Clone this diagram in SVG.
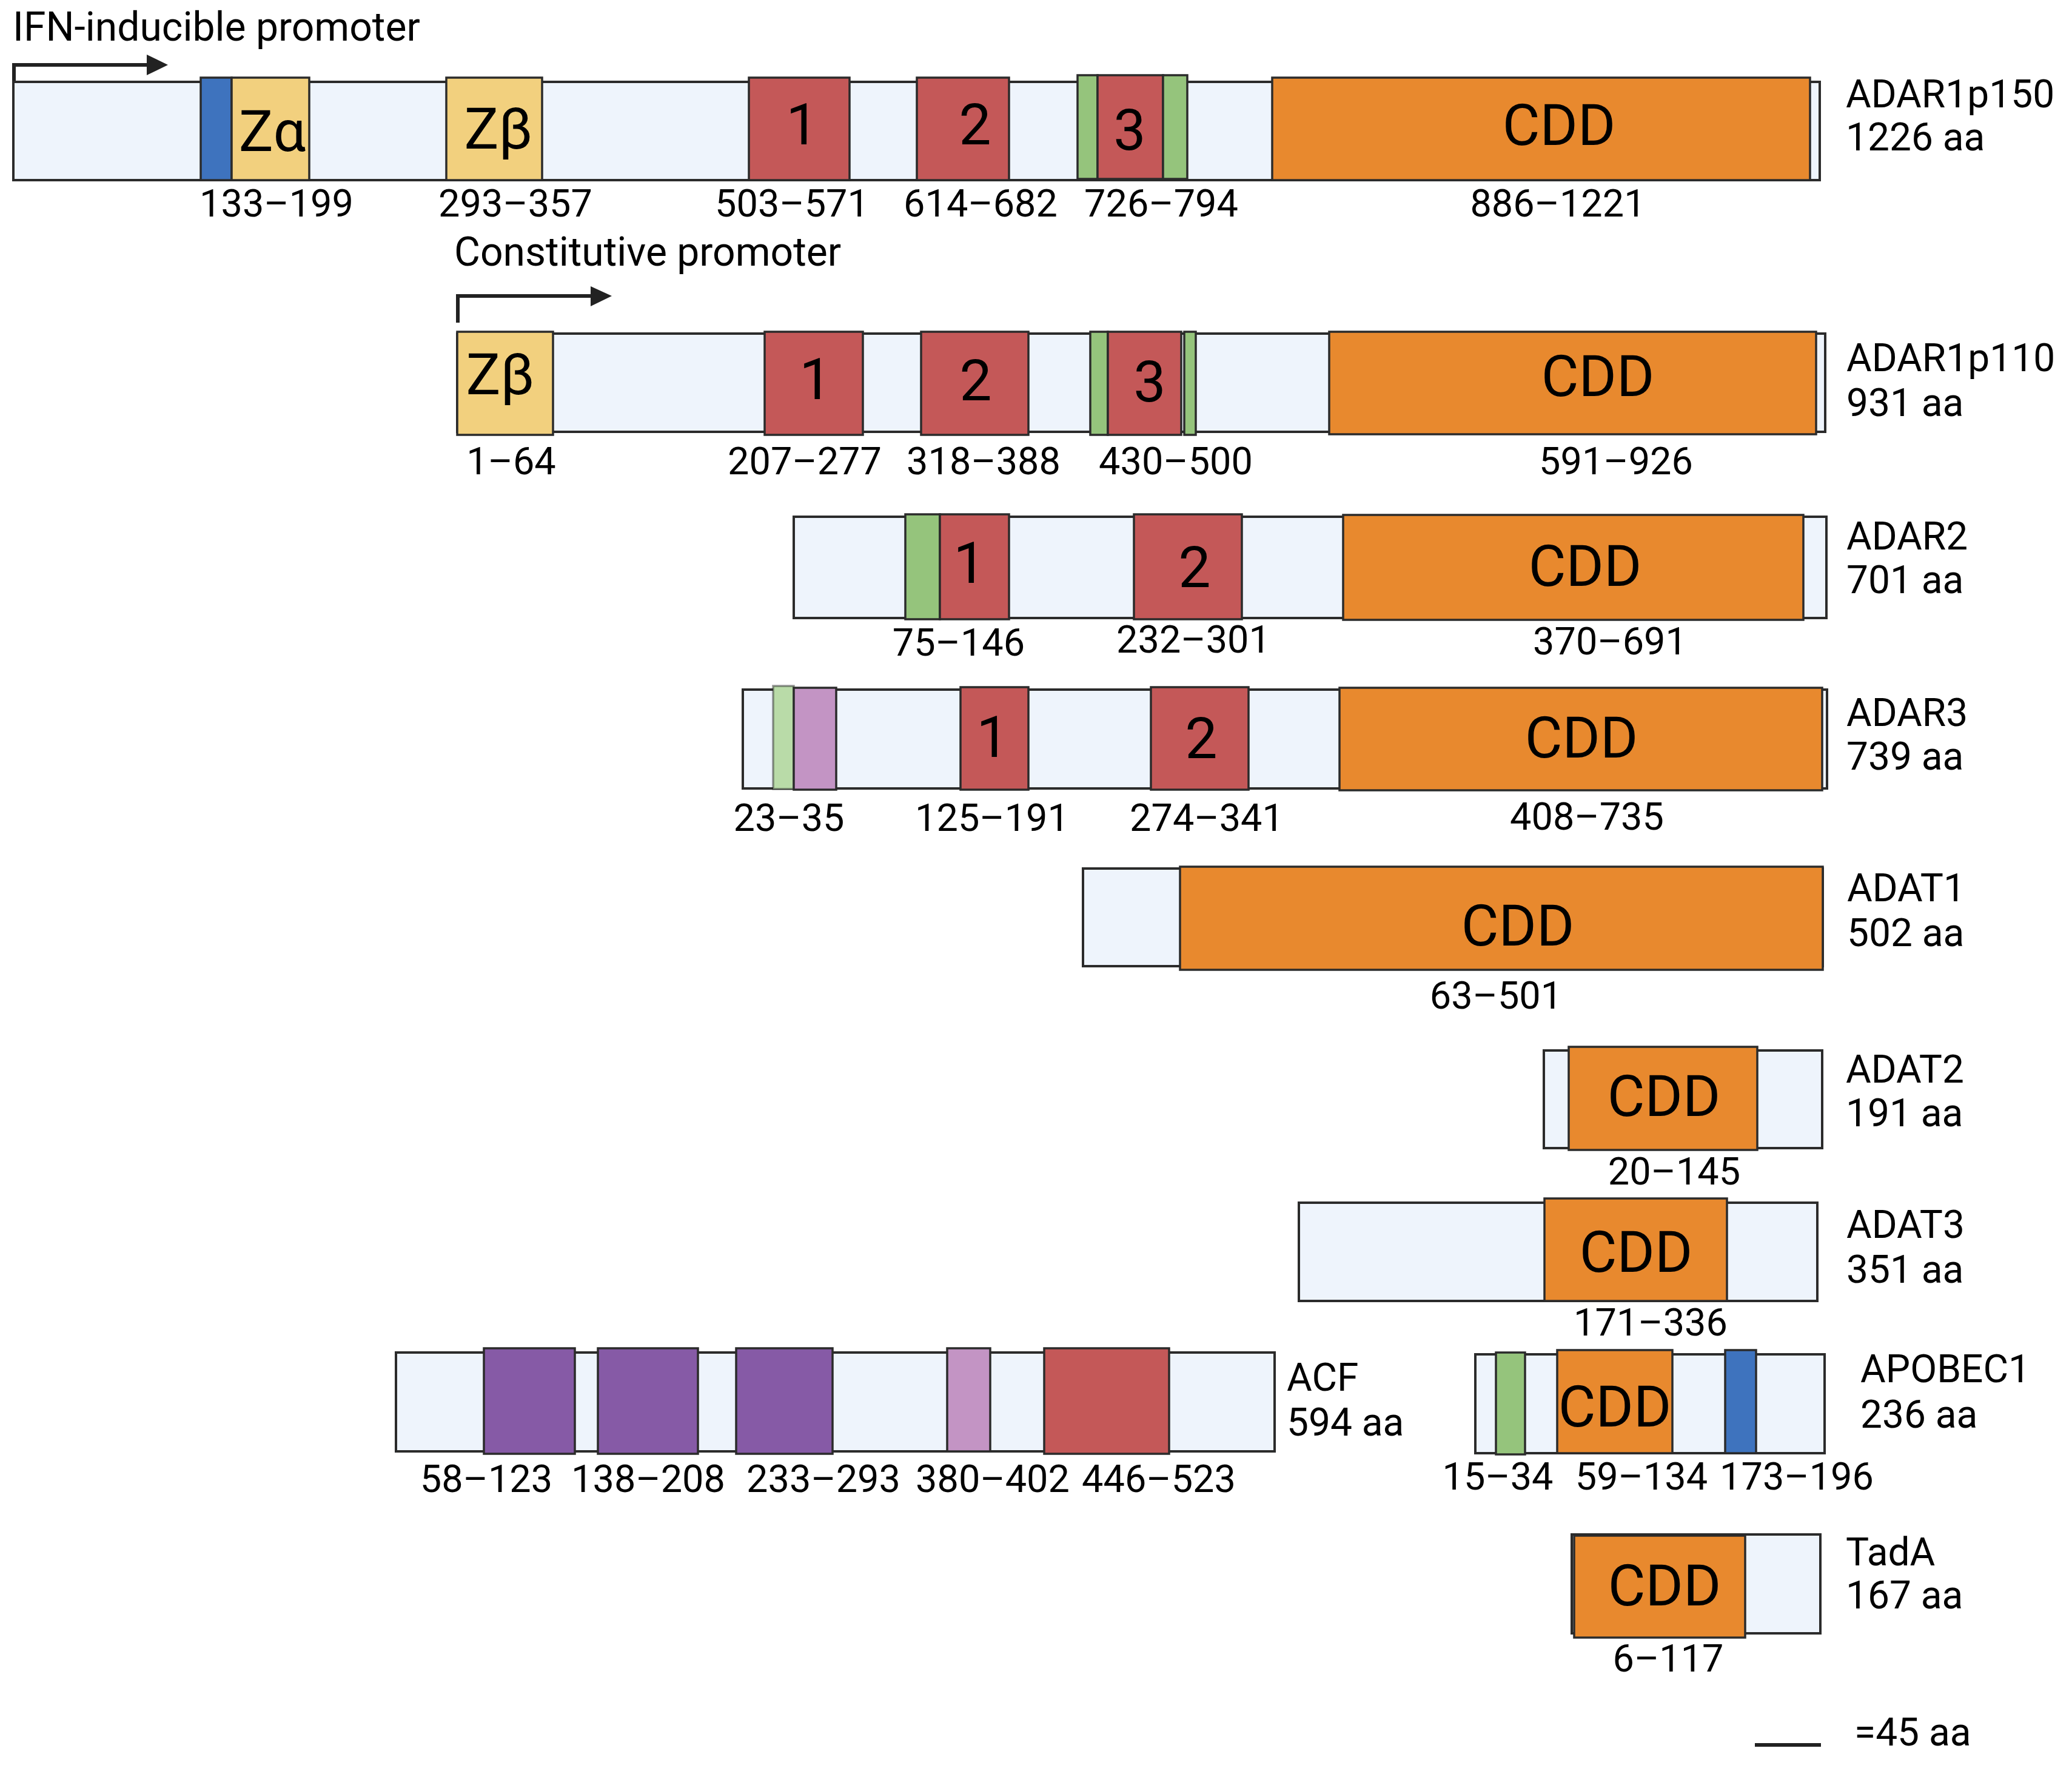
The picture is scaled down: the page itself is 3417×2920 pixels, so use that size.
<svg xmlns="http://www.w3.org/2000/svg" width="3417" height="2920" viewBox="0 0 3417 2920">
<style>
text{font-family:Roboto,"Liberation Sans",sans-serif;fill:#000}
.bar{fill:#eef4fc;stroke:#2b2b2b;stroke-width:4}
.d{stroke:#2b2b2b;stroke-width:3.5}
.y{fill:#f2d07e}.b{fill:#3e73be}.r{fill:#c45858}.g{fill:#95c47c}.o{fill:#e8892e}.p{fill:#865aa6}.k{fill:#c394c4}.lg{fill:#b9dba8}
.big{font-size:95px;text-anchor:middle}
.rng{font-size:63px;text-anchor:middle}
.nm{font-size:64px}
.pr{font-size:66px}
.arr{fill:none;stroke:#222;stroke-width:6}
</style>
<rect width="3417" height="2920" fill="#fff"/>
<g id="promoters">
<text class="pr" x="21" y="67">IFN-inducible promoter</text>
<path class="arr" d="M23 150V107H248"/>
<polygon points="242,90 277,107 242,124" fill="#222"/>
<text class="pr" x="749" y="438">Constitutive promoter</text>
<path class="arr" d="M755 532V488H978"/>
<polygon points="974,472 1009,488 974,505" fill="#222"/>
</g>
<g id="ADAR1p150">
<rect class="bar" x="22" y="135" width="2979" height="162"/>
<rect class="d b" x="331" y="128" width="51" height="169"/>
<rect class="d y" x="382" y="128" width="128" height="169"/>
<rect class="d y" x="736" y="128" width="158" height="169"/>
<rect class="d r" x="1235" y="128" width="166" height="169"/>
<rect class="d r" x="1512" y="128" width="152" height="169"/>
<rect class="d g" x="1777" y="124" width="33" height="171"/>
<rect class="d r" x="1810" y="124" width="108" height="171"/>
<rect class="d g" x="1918" y="124" width="40" height="171"/>
<rect class="d o" x="2098" y="128" width="887" height="169"/>
<text class="big" x="449" y="249">Zα</text>
<text class="big" x="822" y="245">Zβ</text>
<text class="big" x="1323" y="238">1</text>
<text class="big" x="1608" y="238">2</text>
<text class="big" x="1863" y="247">3</text>
<text class="big" x="2571" y="239">CDD</text>
<text class="rng" x="456" y="357">133–199</text>
<text class="rng" x="850" y="357">293–357</text>
<text class="rng" x="1306" y="357">503–571</text>
<text class="rng" x="1617" y="357">614–682</text>
<text class="rng" x="1915" y="357">726–794</text>
<text class="rng" x="2569" y="357">886–1221</text>
<text class="nm" x="3044" y="177">ADAR1p150</text>
<text class="nm" x="3044" y="248">1226 aa</text>
</g>
<g id="ADAR1p110">
<rect class="bar" x="754" y="550" width="2256" height="162"/>
<rect class="d y" x="754" y="547" width="158" height="170"/>
<rect class="d r" x="1261" y="547" width="162" height="170"/>
<rect class="d r" x="1519" y="547" width="177" height="170"/>
<rect class="d g" x="1798" y="547" width="29" height="170"/>
<rect class="d r" x="1827" y="547" width="121" height="170"/>
<rect class="d g" x="1953" y="547" width="19" height="170"/>
<rect class="d o" x="2192" y="547" width="803" height="169"/>
<text class="big" x="825" y="650">Zβ</text>
<text class="big" x="1345" y="658">1</text>
<text class="big" x="1609" y="660">2</text>
<text class="big" x="1896" y="662">3</text>
<text class="big" x="2635" y="653">CDD</text>
<text class="rng" x="843" y="782">1–64</text>
<text class="rng" x="1327" y="782">207–277</text>
<text class="rng" x="1622" y="782">318–388</text>
<text class="rng" x="1939" y="782">430–500</text>
<text class="rng" x="2665" y="782">591–926</text>
<text class="nm" x="3045" y="612">ADAR1p110</text>
<text class="nm" x="3045" y="686">931 aa</text>
</g>
<g id="ADAR2">
<rect class="bar" x="1309" y="852" width="1703" height="167"/>
<rect class="d g" x="1493" y="848" width="57" height="173"/>
<rect class="d r" x="1550" y="848" width="114" height="173"/>
<rect class="d r" x="1870" y="848" width="178" height="173"/>
<rect class="d o" x="2215" y="849" width="759" height="173"/>
<text class="big" x="1599" y="961">1</text>
<text class="big" x="1970" y="968">2</text>
<text class="big" x="2614" y="966">CDD</text>
<text class="rng" x="1581" y="1081">75–146</text>
<text class="rng" x="1968" y="1076">232–301</text>
<text class="rng" x="2655" y="1079">370–691</text>
<text class="nm" x="3045" y="906">ADAR2</text>
<text class="nm" x="3045" y="978">701 aa</text>
</g>
<g id="ADAR3">
<rect class="bar" x="1225" y="1137" width="1788" height="163"/>
<rect class="d lg" x="1275" y="1131" width="34" height="170" stroke-opacity="0.5"/>
<rect class="d k" x="1309" y="1134" width="70" height="168"/>
<rect class="d r" x="1584" y="1133" width="112" height="169"/>
<rect class="d r" x="1898" y="1133" width="161" height="169"/>
<rect class="d o" x="2209" y="1134" width="796" height="169"/>
<text class="big" x="1637" y="1248">1</text>
<text class="big" x="1981" y="1250">2</text>
<text class="big" x="2608" y="1249">CDD</text>
<text class="rng" x="1301" y="1370">23–35</text>
<text class="rng" x="1636" y="1370">125–191</text>
<text class="rng" x="1990" y="1370">274–341</text>
<text class="rng" x="2617" y="1368">408–735</text>
<text class="nm" x="3045" y="1197">ADAR3</text>
<text class="nm" x="3045" y="1269">739 aa</text>
</g>
<g id="ADAT1">
<rect class="bar" x="1786" y="1432" width="1220" height="161"/>
<rect class="d o" x="1946" y="1429" width="1060" height="170"/>
<text class="big" x="2503" y="1559">CDD</text>
<text class="rng" x="2467" y="1663">63–501</text>
<text class="nm" x="3046" y="1486">ADAT1</text>
<text class="nm" x="3046" y="1560">502 aa</text>
</g>
<g id="ADAT2">
<rect class="bar" x="2546" y="1732" width="459" height="161"/>
<rect class="d o" x="2587" y="1726" width="311" height="170"/>
<text class="big" x="2744" y="1840">CDD</text>
<text class="rng" x="2761" y="1953">20–145</text>
<text class="nm" x="3044" y="1785">ADAT2</text>
<text class="nm" x="3044" y="1857">191 aa</text>
</g>
<g id="ADAT3">
<rect class="bar" x="2142" y="1983" width="855" height="162"/>
<rect class="d o" x="2547" y="1976" width="301" height="169"/>
<text class="big" x="2698" y="2097">CDD</text>
<text class="rng" x="2722" y="2202">171–336</text>
<text class="nm" x="3045" y="2041">ADAT3</text>
<text class="nm" x="3045" y="2115">351 aa</text>
</g>
<g id="ACF">
<rect class="bar" x="653" y="2230" width="1449" height="163"/>
<rect class="d p" x="798" y="2223" width="150" height="174"/>
<rect class="d p" x="986" y="2223" width="165" height="174"/>
<rect class="d p" x="1214" y="2223" width="159" height="174"/>
<rect class="d k" x="1562" y="2223" width="71" height="170"/>
<rect class="d r" x="1722" y="2223" width="206" height="174"/>
<text class="rng" x="802" y="2460">58–123</text>
<text class="rng" x="1069" y="2460">138–208</text>
<text class="rng" x="1358" y="2460">233–293</text>
<text class="rng" x="1637" y="2460">380–402</text>
<text class="rng" x="1911" y="2460">446–523</text>
<text class="nm" x="2122" y="2293">ACF</text>
<text class="nm" x="2122" y="2367">594 aa</text>
</g>
<g id="APOBEC1">
<rect class="bar" x="2433" y="2233" width="576" height="163"/>
<rect class="d g" x="2467" y="2230" width="48" height="168"/>
<rect class="d o" x="2568" y="2226" width="190" height="170"/>
<rect class="d b" x="2845" y="2226" width="51" height="170"/>
<text class="big" x="2663" y="2352">CDD</text>
<text class="rng" x="2470" y="2456">15–34</text>
<text class="rng" x="2707" y="2456">59–134</text>
<text class="rng" x="2963" y="2456">173–196</text>
<text class="nm" x="3068" y="2279">APOBEC1</text>
<text class="nm" x="3068" y="2354">236 aa</text>
</g>
<g id="TadA">
<rect class="bar" x="2592" y="2530" width="410" height="163"/>
<rect class="d o" x="2596" y="2532" width="282" height="168"/>
<text class="big" x="2745" y="2647">CDD</text>
<text class="rng" x="2751" y="2756">6–117</text>
<text class="nm" x="3044" y="2581">TadA</text>
<text class="nm" x="3044" y="2652">167 aa</text>
</g>
<g id="scale">
<line x1="2894" y1="2877" x2="3003" y2="2877" stroke="#222" stroke-width="6"/>
<text class="nm" x="3058" y="2878">=45 aa</text>
</g>
</svg>
